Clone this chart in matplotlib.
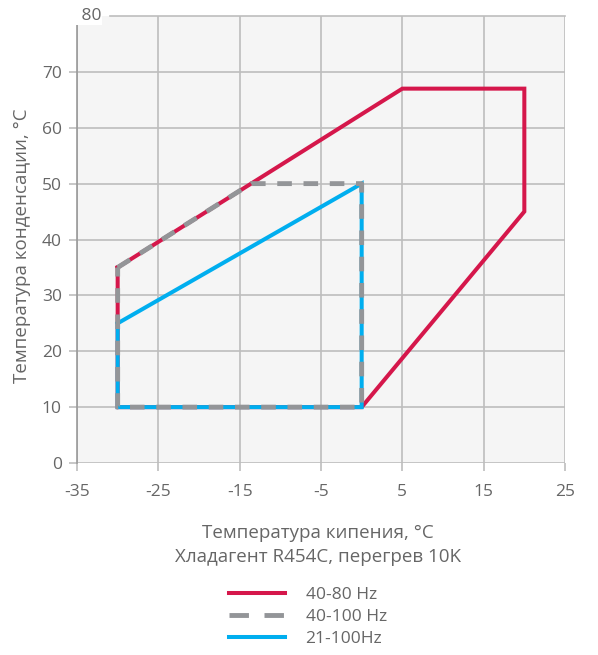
import matplotlib
matplotlib.use("Agg")
import matplotlib.pyplot as plt
from matplotlib.lines import Line2D

plt.rcParams['font.family'] = ['Open Sans', 'DejaVu Sans']
plt.rcParams['axes.unicode_minus'] = False

# Data
red_x = [-30, 5, 20, 20, 0, -30, -30]
red_y = [35, 67, 67, 45, 10, 10, 35]
grey_x = [-30, -13.6, 0, 0, -30, -30]
grey_y = [35, 50, 50, 10, 10, 35]
blue_x = [-30, 0, 0, -30, -30]
blue_y = [25, 50, 10, 10, 25]
labels = ["40-80 Hz", "40-100 Hz", "21-100Hz"]
xticks = [-35, -25, -15, -5, 5, 15, 25]
yticks = [0, 10, 20, 30, 40, 50, 60, 70]

RED = "#d5174b"
GREY = "#939598"
BLUE = "#00aeef"
TXT = "#666666"
GRID = "#bdbdbd"
TICKFS = 12.5
LABFS = 13.5

fig = plt.figure(figsize=(5.98, 6.55), dpi=100)
ax = fig.add_axes([77/598, 1-463/655, (565-77)/598, (463-16)/655])
ax.set_facecolor("#f5f5f5")
ax.set_xlim(-35, 25)
ax.set_ylim(0, 80)

lw = 2.9
glw = 3.5
ax.plot(red_x, red_y, color=RED, lw=lw, solid_joinstyle='miter', zorder=3)
ax.plot(blue_x, blue_y, color=BLUE, lw=lw, solid_joinstyle='miter', zorder=4)
ax.plot(grey_x, grey_y, color=GREY, lw=glw, dashes=(3.0, 2.4), zorder=5)

ax.set_xticks(xticks)
ax.set_yticks(yticks)
ax.grid(True, color=GRID, lw=1.2, zorder=0)
ax.axhline(80, xmin=(110-77)/488, color=GRID, lw=1.2, zorder=1, clip_on=False)
ax.set_axisbelow(True)
for s in ['top', 'right', 'bottom']:
    ax.spines[s].set_visible(False)
ax.spines['left'].set_color("#999999")
ax.spines['left'].set_linewidth(1.2)
ax.tick_params(axis='both', colors=GRID, labelcolor=TXT, labelsize=TICKFS, length=6, width=1.2)
ax.tick_params(axis='x', pad=9)
ax.tick_params(axis='y', pad=5)
ax.text(-35, 80, " 80", ha='left', va='center', color=TXT, fontsize=TICKFS,
        bbox=dict(facecolor='white', edgecolor='none', pad=0.5), zorder=6, clip_on=False)

fig.text(22/598, 1-246/655, "Температура конденсации, °C", rotation=90,
         ha='center', va='center', color=TXT, fontsize=LABFS)
fig.text(318/598, 1-533/655, "Температура кипения, °C", ha='center', va='center', color=TXT, fontsize=LABFS)
fig.text(318/598, 1-557/655, "Хладагент R454C, перегрев 10K", ha='center', va='center', color=TXT, fontsize=LABFS)

handles = [
    Line2D([0], [0], color=RED, lw=lw),
    Line2D([0], [0], color=GREY, lw=glw, dashes=(4.0, 3.2)),
    Line2D([0], [0], color=BLUE, lw=lw),
]
leg = fig.legend(handles, labels, loc='center', bbox_to_anchor=(308/598, 1-617/655),
                 frameon=False, fontsize=TICKFS, handlelength=3.2, handletextpad=1.2,
                 labelspacing=0.36, labelcolor=TXT, borderpad=0)

fig.savefig("out.png", dpi=100, facecolor='white')
